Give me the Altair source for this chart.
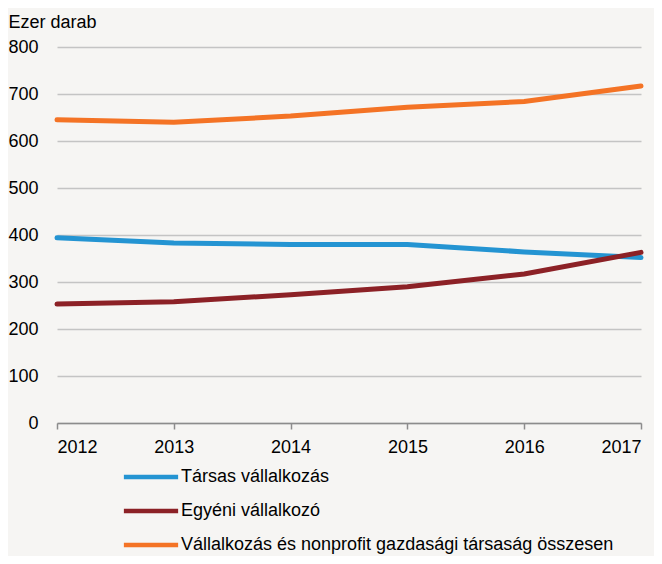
import altair as alt
import pandas as pd

years = [2012, 2013, 2014, 2015, 2016, 2017]
series_names = [
    "Társas vállalkozás",
    "Egyéni vállalkozó",
    "Vállalkozás és nonprofit gazdasági társaság összesen",
]
tarsas = [394, 383, 380, 380, 364, 352]
egyeni = [253, 258, 273, 290, 317, 363]
osszesen = [645, 640, 653, 672, 684, 717]
colors = ["#2494d2", "#8c2126", "#f47325"]

rows = []
for name, vals in zip(series_names, [tarsas, egyeni, osszesen]):
    for y, v in zip(years, vals):
        rows.append({"ev": y, "ertek": v, "sorozat": name})
df = pd.DataFrame(rows)

FONT = "Liberation Sans, Arial, sans-serif"
FS = 18
BG = "#f6f5f3"

chart = alt.Chart(df).mark_line(strokeWidth=5, strokeCap="round").encode(
    x=alt.X(
        "ev:Q",
        scale=alt.Scale(domain=[2012, 2017], nice=False, zero=False),
        axis=alt.Axis(
            title=None,
            values=years,
            format="d",
            grid=False,
            domainColor="#8c8c8c",
            domainWidth=1.5,
            tickColor="#8c8c8c",
            tickWidth=1.5,
            tickSize=6,
            labelPadding=9,
            labelFontSize=FS,
            labelFont=FONT,
            labelColor="#000000",
        ),
    ),
    y=alt.Y(
        "ertek:Q",
        scale=alt.Scale(domain=[0, 800], nice=False),
        axis=alt.Axis(
            title="Ezer darab",
            titleAngle=0,
            titleAlign="left",
            titleBaseline="alphabetic",
            titleX=-49,
            titleY=-20,
            titleFont=FONT,
            titleFontSize=FS,
            titleFontWeight="normal",
            titleColor="#000000",
            values=[0, 100, 200, 300, 400, 500, 600, 700, 800],
            domain=False,
            ticks=False,
            labelPadding=19,
            labelFontSize=FS,
            labelFont=FONT,
            labelColor="#000000",
            gridColor="#c4c4c4",
            gridWidth=1.5,
        ),
    ),
    color=alt.Color(
        "sorozat:N",
        scale=alt.Scale(domain=series_names, range=colors),
        legend=alt.Legend(
            title=None,
            orient="none",
            legendX=76,
            legendY=412,
            direction="vertical",
            symbolType="M-1.75,0H1.75",
            symbolSize=961,
            symbolStrokeWidth=4.5,
            labelOffset=12,
            labelFont=FONT,
            labelFontSize=FS,
            labelColor="#000000",
            labelLimit=0,
            rowPadding=7,
            padding=0,
        ),
    ),
).properties(
    width=584,
    height=376,
    background=BG,
    padding={"left": 49, "top": 39, "right": 13, "bottom": 133},
    autosize=alt.AutoSizeParams(type="none"),
).configure_view(
    stroke=None,
)

chart.save("out.html", embed_options={"renderer": "svg", "actions": False})
